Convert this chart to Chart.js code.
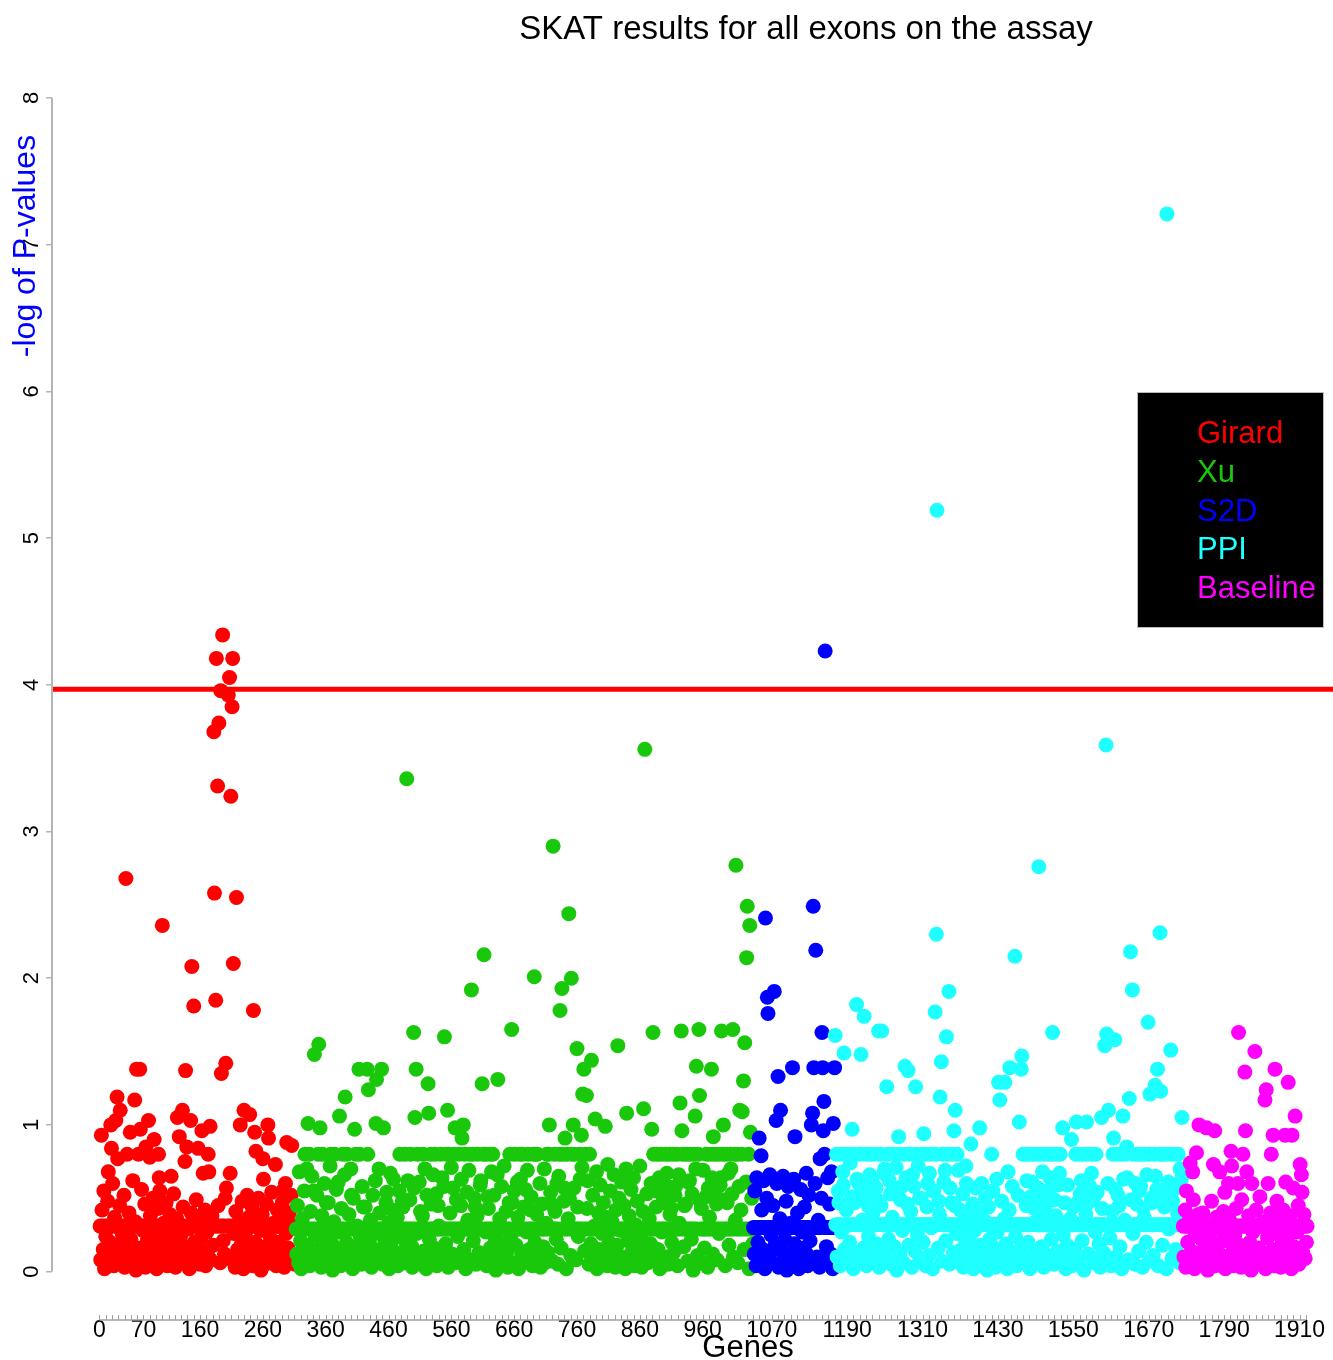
<!DOCTYPE html>
<html lang="en">
<head>
<meta charset="utf-8">
<title>SKAT results for all exons on the assay</title>
<script src="https://cdn.jsdelivr.net/npm/chart.js@4.4.1/dist/chart.umd.min.js"></script>
<style>
  html, body { margin: 0; padding: 0; background: #ffffff; }
  #wrap { position: relative; width: 1333px; height: 1360px; }
</style>
</head>
<body>
<div id="wrap"><canvas id="skatChart"></canvas></div>
<script>
// -log10(p) per gene. Genes are numbered consecutively,
// one array per gene set, in plotting order.
const girardP = [
  0.31,0.08,0.93,0.42,0.31,0.15,0.55,0.02,0.31,0.24,0.06,0.31,0.48,0.68,0.12,0.31,0.2,1.0,0.84,0.31,
  0.6,0.31,0.04,0.37,0.18,1.03,0.31,1.19,0.77,0.1,0.31,0.45,1.1,0.07,0.31,0.26,0.14,0.31,0.52,0.03,
  0.31,2.68,0.19,0.8,0.31,0.09,0.4,0.31,0.95,0.22,0.05,0.31,0.62,0.13,0.31,1.17,0.34,0.01,1.38,0.31,
  0.16,0.8,0.31,1.38,0.97,0.07,0.56,0.31,0.28,0.11,0.31,0.46,0.03,0.85,0.31,0.21,0.09,1.03,0.31,0.78,
  0.38,0.05,0.31,0.17,0.5,0.31,0.9,0.1,0.31,0.25,0.02,0.31,0.43,0.8,0.64,0.55,0.31,0.14,0.06,2.36,
  0.31,0.33,0.08,0.31,0.19,0.47,0.31,0.04,0.27,0.31,0.12,0.39,0.31,0.65,0.07,0.31,0.22,0.53,0.31,0.15,
  0.03,0.31,0.36,1.05,0.31,0.11,0.92,0.31,0.24,0.06,0.31,1.1,0.44,0.31,0.17,0.75,1.37,0.31,0.85,0.09,
  0.31,0.29,0.02,0.31,1.03,0.4,2.08,0.13,0.31,1.81,0.2,0.31,0.07,0.49,0.31,0.16,0.84,0.31,0.35,0.05,
  0.31,0.23,0.96,0.31,0.67,0.1,0.31,0.42,0.04,0.31,0.27,0.14,0.8,0.68,0.31,0.99,0.08,0.31,0.38,0.31,
  0.18,3.68,2.58,0.31,1.85,4.18,0.31,3.31,0.45,3.74,0.31,0.06,3.96,1.35,0.31,4.34,0.21,0.31,0.12,0.5,
  1.42,0.57,0.31,0.09,3.93,0.31,4.05,0.67,3.24,0.31,3.85,4.18,2.1,0.26,0.31,0.03,0.41,2.55,0.31,0.15,
  0.31,0.34,0.07,1.0,0.31,0.19,0.48,0.31,0.02,1.1,0.31,0.25,0.11,0.31,0.52,0.06,0.31,0.37,1.07,0.31,
  0.14,0.31,0.44,0.04,1.78,0.31,0.95,0.2,0.82,0.31,0.09,0.31,0.5,0.13,0.31,0.28,0.01,0.31,0.39,0.77,
  0.63,0.31,0.17,0.05,0.31,0.46,0.31,1.0,0.91,0.1,0.31,0.23,0.31,0.54,0.07,0.31,0.33,0.15,0.31,0.73,
  0.04,0.31,0.42,0.31,0.2,0.08,0.31,0.36,0.31,0.12,0.47,0.55,0.31,0.03,0.31,0.6,0.26,0.88,0.31,0.16,
  0.31,0.4,0.06,0.31,0.52,0.86,0.31,0.11,0.31,0.3,0.05,0.31
];
const xuP = [
  0.29,0.12,0.45,0.29,0.06,0.68,0.29,0.21,0.02,0.29,0.36,0.14,0.29,0.55,0.8,0.09,0.29,0.7,0.18,1.01,
  0.29,0.8,0.04,0.41,0.29,0.65,0.11,0.29,0.55,1.48,0.25,0.29,0.07,0.52,0.29,0.8,1.55,0.16,0.98,0.29,
  0.03,0.38,0.8,0.29,0.13,0.6,0.29,0.22,0.47,0.05,0.29,0.47,0.1,0.29,0.72,0.8,0.29,0.19,0.01,0.29,
  0.34,0.8,0.08,0.29,0.56,0.15,0.29,0.61,0.27,1.06,0.29,0.04,0.43,0.29,0.8,0.12,0.29,0.66,1.19,0.29,
  0.2,0.8,0.06,0.29,0.39,0.29,0.11,0.7,0.52,0.29,0.02,0.5,0.29,0.97,0.17,0.8,0.29,0.31,0.07,0.29,
  1.38,0.8,0.24,0.29,0.05,0.58,0.29,0.44,0.14,0.29,0.44,0.29,0.09,1.38,0.8,1.24,0.29,0.19,0.35,0.29,
  0.03,0.29,0.52,0.12,0.29,0.26,0.62,1.01,1.31,0.29,0.08,0.29,0.7,0.4,0.29,0.15,1.38,0.29,0.05,0.98,
  0.29,0.21,0.29,0.47,0.54,0.1,0.29,0.33,0.02,0.29,0.67,0.16,0.29,0.42,0.07,0.63,0.29,0.23,0.29,0.11,
  0.29,0.37,0.04,0.29,0.55,0.8,0.29,0.13,0.29,0.48,0.44,0.29,0.06,0.8,0.29,0.2,3.36,0.29,0.62,0.09,
  0.29,0.49,0.8,0.29,0.17,0.03,0.29,1.63,0.57,1.05,0.29,1.38,0.26,0.8,0.29,0.1,0.61,0.29,0.41,0.05,
  0.29,0.38,0.8,0.14,0.29,0.7,0.29,0.02,0.52,0.29,1.28,1.08,0.22,0.29,0.8,0.46,0.29,0.08,0.66,0.29,
  0.16,0.8,0.29,0.53,0.04,0.29,0.45,0.31,0.29,0.11,0.8,0.29,0.64,0.07,0.29,0.58,1.6,0.29,0.19,0.8,
  0.29,1.1,0.03,0.8,0.29,0.4,0.29,0.71,0.12,0.29,0.57,0.8,0.29,0.98,0.06,0.49,0.29,0.24,0.29,0.8,
  0.1,0.29,0.45,0.63,0.91,0.29,1.0,0.15,0.8,0.29,0.02,0.29,0.54,0.35,0.29,0.69,0.8,0.29,0.08,1.92,
  0.29,0.8,0.21,0.29,0.5,0.44,0.05,0.29,0.38,0.8,0.29,0.13,0.29,0.59,0.62,0.29,1.28,0.09,0.8,2.16,
  0.29,0.8,0.27,0.04,0.29,0.51,0.43,0.29,0.8,0.16,0.29,0.68,0.07,0.8,0.29,0.52,0.29,0.22,0.01,0.29,
  0.66,1.31,0.29,0.11,0.36,0.29,0.05,0.58,0.29,0.19,0.29,0.72,0.09,0.29,0.41,0.29,0.14,0.03,0.29,0.47,
  0.8,0.29,0.25,1.65,0.47,0.29,0.06,0.55,0.8,0.29,0.18,0.29,0.61,0.37,0.02,0.29,0.8,0.63,0.29,0.12,
  0.8,0.29,0.44,0.29,0.08,0.56,0.29,0.27,0.69,0.8,0.29,0.15,0.29,0.42,0.51,0.29,0.04,0.8,0.29,2.01,
  0.2,0.8,0.29,0.39,0.8,0.29,0.1,0.29,0.6,0.03,0.29,0.46,0.29,0.17,0.29,0.7,0.06,0.29,0.33,0.8,
  0.29,0.13,0.8,1.0,0.29,0.54,0.46,0.29,0.07,2.9,0.29,0.8,0.41,0.29,0.22,0.6,0.29,0.05,0.65,0.8,
  1.78,0.29,0.16,1.93,0.8,0.29,0.48,0.57,0.91,0.29,0.02,0.8,0.29,0.36,2.44,0.5,0.29,0.11,2.0,0.8,
  0.29,1.0,0.57,0.8,0.29,0.08,0.29,1.52,0.44,0.24,0.29,0.8,0.63,0.29,0.93,0.71,1.21,0.29,1.38,0.14,
  0.8,0.29,1.2,0.43,0.62,0.29,0.05,0.8,0.29,0.19,1.44,0.29,0.52,0.09,0.29,0.31,1.04,0.29,0.68,0.02,
  0.29,0.4,0.15,0.29,0.59,0.29,0.06,0.26,0.29,0.47,0.11,0.29,0.99,0.37,0.29,0.04,0.73,0.29,0.2,0.29,
  0.55,0.08,0.29,0.34,0.29,0.13,0.66,0.29,0.03,0.42,0.29,0.18,1.54,0.29,0.5,0.07,0.29,0.28,0.61,0.29,
  0.1,0.29,0.45,0.29,0.02,0.7,1.08,0.29,0.21,0.29,0.38,0.06,0.29,0.56,0.29,0.14,0.29,0.64,0.04,0.29,
  0.32,0.29,0.17,0.48,0.29,0.09,0.29,0.72,0.24,0.29,0.03,0.29,0.41,1.11,0.29,3.56,0.12,0.29,0.53,0.29,
  0.06,0.29,0.36,0.29,0.19,0.6,0.97,0.29,1.63,0.8,0.29,0.08,0.55,0.44,0.29,0.8,0.15,0.29,0.64,0.02,
  0.29,0.8,0.27,0.29,0.47,0.5,0.29,0.1,0.8,0.29,0.67,0.58,0.05,0.29,0.8,0.39,0.29,0.43,0.2,0.29,
  0.8,0.13,0.29,0.52,0.58,0.29,0.8,0.04,0.29,0.66,0.33,1.15,0.29,1.64,0.96,0.8,0.29,0.17,0.45,0.29,
  0.46,0.8,0.29,0.07,0.61,0.29,0.62,0.8,0.29,0.22,0.53,0.29,0.01,0.8,0.29,1.06,0.7,1.4,0.29,0.11,
  0.8,1.65,1.2,0.48,0.29,0.43,0.06,0.29,0.69,0.29,0.16,0.29,0.51,0.8,0.29,0.03,0.57,0.29,0.37,0.8,
  0.29,1.38,0.64,0.12,0.92,0.29,0.8,0.55,0.29,0.46,0.08,0.29,0.8,0.26,0.29,0.59,0.64,1.64,0.29,0.8,
  1.0,0.29,0.49,0.04,0.29,0.8,0.47,0.29,0.67,0.18,0.29,0.8,0.7,0.29,0.53,1.65,0.1,0.29,0.8,0.35,
  2.77,0.29,0.8,0.06,0.29,0.58,1.1,0.29,0.42,0.8,1.09,0.29,1.3,0.15,1.56,0.29,0.61,2.14,2.49,0.29,
  0.8,0.02,2.36,0.95,0.29,0.5,0.29,0.19
];
const s2dP = [
  0.3,0.12,0.55,0.3,0.04,0.64,0.3,0.2,0.3,0.91,0.08,0.3,0.79,0.42,0.3,0.15,0.62,0.3,0.02,2.41,
  0.3,0.5,1.87,1.76,0.3,0.1,0.66,0.3,0.25,0.3,0.06,0.45,0.3,1.91,0.18,0.3,1.03,0.6,0.3,1.33,
  0.03,0.3,0.36,1.1,0.3,0.14,0.3,0.65,0.07,0.3,0.22,0.3,0.48,0.01,0.3,0.58,0.3,0.11,0.3,0.33,
  0.3,0.05,1.39,0.3,0.63,0.19,0.92,0.3,0.09,0.3,0.4,0.3,0.02,0.3,0.16,0.56,0.3,0.27,0.3,0.06,
  0.3,0.44,0.3,0.13,0.67,0.3,0.04,0.3,0.52,0.3,0.21,0.3,1.0,0.08,1.08,2.49,1.39,0.3,0.6,2.19,
  0.3,0.1,0.3,0.35,0.3,0.03,0.77,0.3,0.5,1.63,1.39,0.96,1.16,0.8,4.23,0.3,0.17,0.3,0.64,0.07,
  0.3,0.46,0.3,0.12,0.68,0.3,0.02,1.01,0.3,1.39
];
const ppiP = [
  1.61,0.32,0.8,0.1,0.32,0.55,0.47,0.32,0.04,0.8,0.27,0.32,0.68,0.59,1.49,0.15,0.32,0.8,0.42,0.32,
  0.06,0.8,0.32,0.2,0.74,0.32,0.51,0.97,0.32,0.02,0.8,0.47,0.32,0.13,1.82,0.63,0.32,0.6,0.32,0.08,
  0.8,1.48,0.32,0.35,0.56,0.16,1.74,0.32,0.52,0.8,0.04,0.32,0.45,0.24,0.32,0.66,0.8,0.11,0.32,0.61,
  0.4,0.32,0.07,0.8,0.32,0.57,0.19,0.49,0.32,1.64,0.03,0.32,0.8,0.45,1.64,0.32,0.14,0.67,0.32,0.7,
  0.32,0.09,1.26,0.8,0.32,0.22,0.62,0.32,0.53,0.05,0.32,0.37,0.8,0.32,0.17,0.54,0.32,0.71,0.01,0.32,
  0.8,0.92,0.32,0.12,0.49,0.32,0.58,0.28,0.32,0.06,0.8,1.4,0.32,0.64,0.32,0.46,1.37,0.18,0.32,0.8,
  0.41,0.32,0.03,0.66,0.32,0.58,0.32,0.14,1.26,0.8,0.32,0.25,0.72,0.32,0.5,0.08,0.32,0.5,0.8,0.32,
  0.2,0.94,0.32,0.8,0.04,0.32,0.44,0.6,0.32,0.11,0.67,0.32,0.8,0.3,0.32,0.02,0.55,0.55,0.32,1.77,
  0.8,2.3,5.19,0.32,0.16,0.48,0.39,1.19,0.32,1.43,0.07,0.8,0.32,0.61,0.32,0.69,0.21,1.6,0.32,0.8,
  0.32,1.91,0.05,0.57,0.32,0.47,0.8,0.32,0.13,0.96,0.45,1.1,0.32,0.26,0.8,0.32,0.69,0.09,0.32,0.42,
  0.32,0.15,0.32,0.53,0.03,0.32,0.23,0.32,0.72,0.6,0.32,0.1,0.38,0.32,0.06,0.32,0.87,0.19,0.32,0.46,
  0.02,0.32,0.28,0.32,0.57,0.12,0.32,0.41,0.32,0.07,0.98,0.32,0.18,0.6,0.32,0.04,0.32,0.35,0.32,0.5,
  0.14,0.32,0.01,0.32,0.44,0.32,0.22,0.32,0.08,0.8,0.32,0.55,0.32,0.16,0.32,0.03,0.32,0.63,0.27,0.32,
  1.29,0.32,1.17,0.1,0.32,0.48,0.32,0.05,0.32,0.36,1.29,0.32,0.19,0.32,0.02,0.68,0.32,0.42,1.39,0.32,
  0.13,0.32,0.58,0.32,0.07,0.32,2.15,0.24,0.32,0.04,0.32,0.52,0.32,1.02,0.15,0.32,1.38,1.47,0.32,0.8,
  0.32,0.09,0.8,0.32,0.45,0.62,0.32,0.2,0.8,0.32,0.02,0.51,0.32,0.61,0.8,0.32,0.12,0.43,0.32,0.34,
  0.8,0.32,0.06,0.57,2.76,0.32,0.5,0.8,0.32,0.17,0.68,0.32,0.03,0.8,0.32,0.4,0.46,0.32,0.11,0.8,
  0.32,0.56,0.64,0.32,0.22,0.8,1.63,0.32,0.05,0.49,0.32,0.38,0.8,0.32,0.14,0.59,0.32,0.67,0.8,0.32,
  0.08,0.32,0.98,0.25,0.32,0.47,0.32,0.02,0.32,0.18,0.59,0.32,0.1,0.32,0.36,0.32,0.9,0.04,0.32,0.44,
  0.32,0.15,0.32,0.8,1.02,0.32,0.47,0.07,0.32,0.8,0.53,0.32,0.62,0.21,0.32,0.8,0.01,0.32,0.44,0.39,
  1.02,0.32,0.8,0.12,0.32,0.58,0.48,0.32,0.67,0.8,0.32,0.06,0.51,0.32,0.27,0.8,0.32,0.54,0.09,0.32,
  0.19,0.32,0.03,0.32,1.05,0.43,0.32,0.13,0.32,1.54,0.06,3.59,1.62,0.32,0.6,1.1,0.32,0.23,0.32,0.04,
  0.32,0.41,0.8,0.91,0.32,1.58,0.56,0.1,0.32,0.8,0.52,0.32,0.45,0.17,0.32,0.8,0.02,0.32,1.06,0.63,
  0.32,0.35,0.8,0.32,0.85,0.64,0.32,0.08,1.18,0.32,2.18,0.49,0.32,1.92,0.26,0.8,0.32,0.05,0.6,0.32,
  0.46,0.8,0.32,0.14,0.55,0.32,0.58,0.8,0.32,0.03,0.43,0.32,0.37,0.8,0.32,0.2,0.66,0.32,1.7,0.07,
  0.8,1.21,0.32,0.5,0.47,0.32,0.11,0.8,0.32,1.27,0.65,0.32,0.56,1.38,0.04,0.32,0.8,2.31,1.23,0.32,
  0.8,0.18,0.32,0.52,0.44,0.32,0.8,0.02,7.21,0.32,0.61,0.29,0.32,0.8,1.51,0.32,0.09,0.48,0.32,0.56,
  0.8,0.32,0.15,0.59,0.32,0.4,0.8,0.32,0.06,0.7,0.32,0.63,1.05,0.32
];
const baselineP = [
  0.31,0.1,0.31,0.42,0.03,0.55,0.31,0.2,0.31,0.07,0.36,0.74,0.31,0.14,0.31,0.68,0.49,0.31,0.02,0.26,
  0.31,0.81,0.12,0.31,0.39,1.0,0.31,0.05,0.31,0.22,0.31,0.4,0.08,0.31,0.17,0.31,0.33,0.98,0.31,0.01,
  0.31,0.24,0.31,0.09,0.31,0.48,0.15,0.31,0.73,0.31,0.96,0.04,0.31,0.37,0.31,0.19,0.31,0.06,0.68,0.31,
  0.28,0.31,0.11,0.31,0.41,0.31,0.54,0.02,0.31,0.21,0.31,0.07,0.6,0.31,0.35,0.31,0.82,0.72,0.13,0.31,
  0.04,0.31,0.25,0.31,0.43,0.31,0.09,0.6,1.63,0.31,0.18,0.31,0.03,0.49,0.31,0.8,0.31,0.14,1.36,0.96,
  0.31,0.68,0.31,0.06,0.38,0.31,0.2,0.31,0.01,0.6,0.31,0.27,0.31,0.1,1.5,0.31,0.42,0.31,0.05,0.31,
  0.16,0.31,0.51,0.31,0.08,0.31,0.34,0.31,0.12,0.31,1.17,0.02,1.24,0.31,0.23,0.6,0.31,0.07,0.31,0.4,
  0.8,0.31,0.15,0.93,0.31,0.04,1.38,0.31,0.26,0.48,0.31,0.1,0.31,0.36,0.31,0.03,0.31,0.19,0.31,0.42,
  0.31,0.06,0.93,0.61,0.31,0.22,0.31,1.29,0.12,0.31,0.38,0.31,0.02,0.93,0.31,0.57,0.17,0.31,1.06,0.08,
  0.31,0.27,0.31,0.45,0.05,0.31,0.73,0.31,0.66,0.54,0.13,0.31,0.39,0.31,0.09,0.31,0.2,0.31
];

const seriesNames = ['Girard', 'Xu', 'S2D', 'PPI', 'Baseline'];
const seriesColors = ['#ff0000', '#19c80a', '#0000ff', '#1effff', '#ff00ff'];
const xTickLabels = [0, 70, 160, 260, 360, 460, 560, 660, 760, 860, 960, 1070, 1190, 1310, 1430, 1550, 1670, 1790, 1910];
const yTickValues = [0, 1, 2, 3, 4, 5, 6, 7, 8];
const thresholdLine = 3.97;

const FONT = "'Liberation Sans', Arial, Helvetica, sans-serif";

document.addEventListener('DOMContentLoaded', function() {

    const series = [girardP, xuP, s2dP, ppiP, baselineP];
    const xMin = -75.6;
    const xMax = 1963.3;

    // genes numbered from 1, each set following the previous one
    let gene = 1;
    const datasets = series.map((values, k) => {
        const data = values.map((v, j) => ({ x: gene + j, y: v }));
        gene += values.length;
        return {
            type: 'scatter',
            label: seriesNames[k],
            data: data,
            backgroundColor: seriesColors[k],
            borderColor: seriesColors[k],
            pointRadius: 7.5,
            pointHoverRadius: 7.5,
            pointBorderWidth: 0,
            order: series.length - k   // later sets drawn on top
        };
    });

    // significance threshold across the whole plot
    datasets.push({
        type: 'line',
        label: 'threshold',
        data: [{ x: xMin, y: thresholdLine }, { x: xMax, y: thresholdLine }],
        borderColor: '#ff0000',
        borderWidth: 5,
        pointRadius: 0,
        showLine: true,
        order: 0
    });

    // minor ticks every 10 genes along the x axis, labels only on some
    const xTickValues = [];
    for (let v = 0; v <= 1920; v += 10) xTickValues.push(v);

    const decorations = {
        id: 'decorations',
        afterDraw(chart) {
            const ctx = chart.ctx;
            const xs = chart.scales.x;
            const ys = chart.scales.y;
            const area = chart.chartArea;
            ctx.save();

            // title
            ctx.fillStyle = '#000000';
            ctx.font = '33px ' + FONT;
            ctx.textAlign = 'center';
            ctx.textBaseline = 'alphabetic';
            ctx.fillText('SKAT results for all exons on the assay', 806, 39);

            // y axis line from 0 to 8 only
            ctx.strokeStyle = '#b4b4b4';
            ctx.lineWidth = 2;
            ctx.beginPath();
            ctx.moveTo(area.left, ys.getPixelForValue(0));
            ctx.lineTo(area.left, ys.getPixelForValue(8));
            ctx.stroke();

            // rotated y tick labels
            ctx.fillStyle = '#000000';
            ctx.font = '22px ' + FONT;
            ctx.textAlign = 'center';
            ctx.textBaseline = 'middle';
            ys.ticks.forEach(t => {
                ctx.save();
                ctx.translate(32, ys.getPixelForValue(t.value));
                ctx.rotate(-Math.PI / 2);
                ctx.fillText(String(t.value), 0, 0);
                ctx.restore();
            });

            // y axis title
            ctx.save();
            ctx.fillStyle = '#0000ff';
            ctx.font = '32px ' + FONT;
            ctx.textBaseline = 'alphabetic';
            ctx.translate(35, 246);
            ctx.rotate(-Math.PI / 2);
            ctx.fillText('-log of P-values', 0, 0);
            ctx.restore();

            // x axis line with small upward ticks
            const axisY = area.bottom;
            ctx.strokeStyle = '#a0a0a0';
            ctx.lineWidth = 1.5;
            ctx.beginPath();
            ctx.moveTo(xs.getPixelForValue(0), axisY);
            ctx.lineTo(xs.getPixelForValue(1920), axisY);
            ctx.stroke();
            ctx.lineWidth = 1;
            ctx.beginPath();
            xs.ticks.forEach(t => {
                const px = Math.round(xs.getPixelForValue(t.value)) + 0.5;
                ctx.moveTo(px, axisY);
                ctx.lineTo(px, axisY - 5);
            });
            ctx.stroke();

            // x axis title
            ctx.fillStyle = '#000000';
            ctx.font = '31px ' + FONT;
            ctx.textAlign = 'center';
            ctx.textBaseline = 'alphabetic';
            ctx.fillText('Genes', 748, 1357);

            // legend box
            ctx.fillStyle = '#000000';
            ctx.fillRect(1137, 392, 186, 235);
            ctx.strokeStyle = '#bbbbbb';
            ctx.lineWidth = 1;
            ctx.strokeRect(1137.5, 392.5, 186, 235);
            ctx.font = '31px ' + FONT;
            ctx.textAlign = 'left';
            seriesNames.forEach((name, k) => {
                ctx.fillStyle = seriesColors[k];
                ctx.fillText(name, 1197, 443 + k * 38.8);
            });

            ctx.restore();
        }
    };

    const ctxSkat = document.getElementById('skatChart').getContext('2d');
    const skatChart = new Chart(ctxSkat, {
        type: 'scatter',
        data: { datasets: datasets },
        options: {
            responsive: true,
            maintainAspectRatio: false,
            animation: false,
            events: [],
            layout: {
                autoPadding: false,
                padding: { top: 98, right: 0, bottom: 0, left: 0 }
            },
            plugins: {
                legend: { display: false },
                tooltip: { enabled: false },
                title: { display: false }
            },
            scales: {
                x: {
                    type: 'linear',
                    min: xMin,
                    max: xMax,
                    afterBuildTicks: scale => {
                        scale.ticks = xTickValues.map(v => ({ value: v }));
                    },
                    afterFit: scale => { scale.height = 40; },
                    border: { display: false },
                    grid: { display: false, drawTicks: false },
                    ticks: {
                        autoSkip: false,
                        maxRotation: 0,
                        minRotation: 0,
                        padding: -1,
                        color: '#000000',
                        font: { family: FONT, size: 23, lineHeight: 1 },
                        callback: value => xTickLabels.includes(value) ? String(value) : ''
                    }
                },
                y: {
                    type: 'linear',
                    min: -0.33,
                    max: 8,
                    afterBuildTicks: scale => {
                        scale.ticks = yTickValues.map(v => ({ value: v }));
                    },
                    afterFit: scale => { scale.width = 52; },
                    border: { display: false },
                    grid: {
                        display: true,
                        drawOnChartArea: false,
                        drawTicks: true,
                        tickLength: 6,
                        color: '#b4b4b4',
                        lineWidth: 1.5
                    },
                    ticks: { display: false }
                }
            }
        },
        plugins: [decorations]
    });
});
</script>
</body>
</html>
